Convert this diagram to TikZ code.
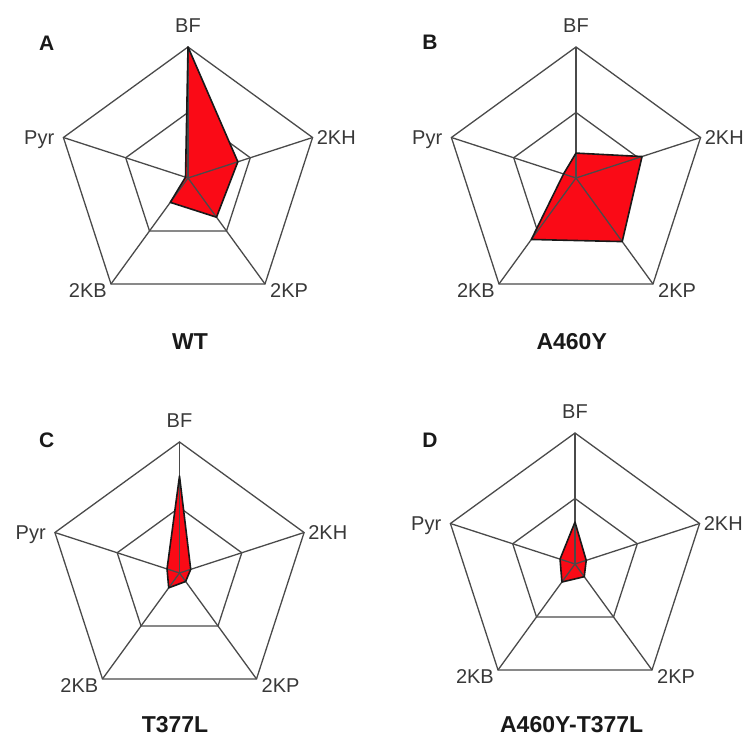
\documentclass[tikz,border=0pt]{standalone}
\usepackage{fontspec}
\setmainfont{Liberation Sans}
\definecolor{gridgray}{HTML}{4A4A4A}
\definecolor{labgray}{HTML}{383838}
\definecolor{radred}{HTML}{FA0A16}
\tikzset{
  gridline/.style={draw=gridgray, line width=1.3pt, line join=miter},
  radedge/.style={draw=black!90, line width=1.6pt, line join=round},
  axlab/.style={font=\fontsize{20}{24}\selectfont, text=labgray, inner sep=0pt},
  panlab/.style={font=\fontsize{21}{25}\selectfont\bfseries, text=black!90, inner sep=0pt},
  caplab/.style={font=\fontsize{23}{27}\selectfont\bfseries, text=black!90, inner sep=0pt},
  fillA/.style={fill=radred},
}
\newcommand\radarchart[9]{%
\begin{scope}[shift={(#2,#3)}]
  \draw[gridline] (90:131) -- (18:131) -- (-54:131) -- (-126:131) -- (162:131) -- cycle;
  \draw[gridline] (90:65.5) -- (18:65.5) -- (-54:65.5) -- (-126:65.5) -- (162:65.5) -- cycle;
  \path[#9] (90:{#4*131}) -- (18:{#5*131}) -- (-54:{#6*131}) -- (-126:{#7*131}) -- (162:{#8*131}) -- cycle;
  \foreach \a in {90,18,-54,-126,162} \draw[gridline] (0,0) -- (\a:131);
  \draw[radedge] (90:{#4*131}) -- (18:{#5*131}) -- (-54:{#6*131}) -- (-126:{#7*131}) -- (162:{#8*131}) -- cycle;
  \coordinate (#1c) at (0,0);
  \node[axlab, anchor=base] (#1bf) at (0,145) {BF};
  \node[axlab, anchor=base west] (#1kh) at (128.6,33.5) {2KH};
  \node[axlab, anchor=base west] (#1kp) at (82,-120) {2KP};
  \node[axlab, anchor=base east] (#1kb) at (-81,-120) {2KB};
  \node[axlab, anchor=base east] (#1pyr) at (-133.6,33.5) {Pyr};
\end{scope}}
\begin{document}
\begin{tikzpicture}[x=1pt,y=1pt]
  \useasboundingbox (0,0) rectangle (750,736);
  \radarchart{a}{188}{558}{1.0}{0.40}{0.37}{0.23}{0.02}{fillA}
  \radarchart{b}{576}{558}{0.19}{0.53}{0.60}{0.58}{0.10}{fillA}
  \radarchart{c}{179.5}{163}{0.74}{0.09}{0.08}{0.14}{0.10}{fillA}
  \radarchart{d}{575}{172}{0.32}{0.09}{0.12}{0.17}{0.12}{fillA}
  \node[panlab] (pA) at (46.7,692.7) {A};
  \node[panlab] (pB) at (430,693.7) {B};
  \node[panlab] (pC) at (46.7,295.3) {C};
  \node[panlab] (pD) at (430,295.3) {D};
  \node[caplab] (cA) at (190,394.3) {WT};
  \node[caplab] (cB) at (571.7,394.3) {A460Y};
  \node[caplab] (cC) at (175,11.5) {T377L};
  \node[caplab] (cD) at (571.7,11.5) {A460Y-T377L};
\end{tikzpicture}
\end{document}
